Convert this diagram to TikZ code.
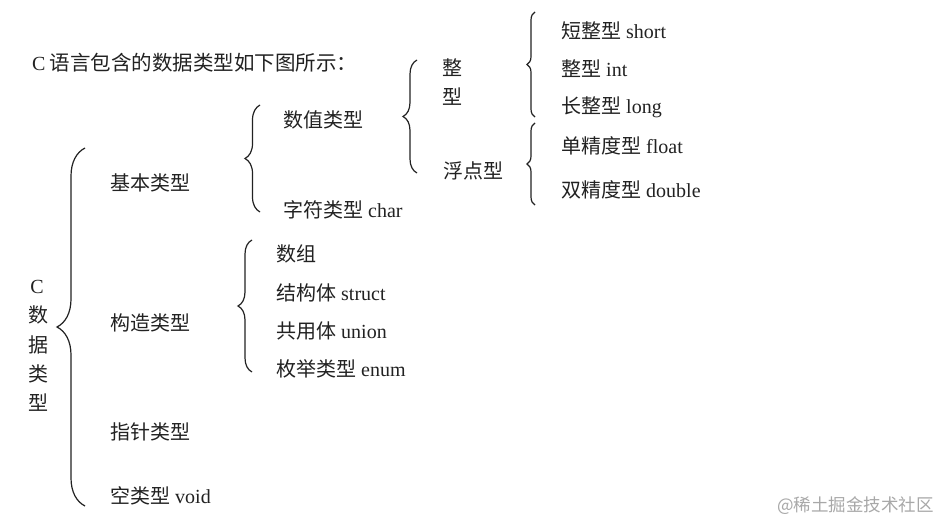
\documentclass[tikz,border=0pt]{standalone}
\usepackage{fontspec}
\setmainfont{Liberation Serif}
\newfontfamily\cjk{Noto Sans CJK SC}
\usetikzlibrary{decorations.pathreplacing}
\definecolor{txt}{HTML}{222222}
\definecolor{wmc}{HTML}{A8A8A8}
\begin{document}
\begin{tikzpicture}[x=1pt,y=-1pt,
  lbl/.style={anchor=west,inner sep=0pt,text=txt,font=\fontsize{20}{22}\selectfont},
  vl/.style={anchor=center,inner sep=0pt,text=txt,font=\fontsize{20}{22}\selectfont},
  br/.style={draw=txt,line width=1.2pt,decorate,decoration={brace,amplitude=#1}}]
\useasboundingbox[fill=white] (0,0) rectangle (941,524);

% title
\node[lbl] (title) at (32,63) {C\hspace{4pt}{\cjk\fontsize{20.5}{22}\selectfont 语言包含的数据类型如下图所示：}};

% vertical label
\node[vl] (vc) at (37,287) {C};
\node[vl] (v1) at (38,315) {\cjk 数};
\node[vl] (v2) at (38,345) {\cjk 据};
\node[vl] (v3) at (38,374) {\cjk 类};
\node[vl] (v4) at (38,403) {\cjk 型};

% level 1
\node[lbl] (jb) at (110,183) {\cjk 基本类型};
\node[lbl] (gz) at (110,323) {\cjk 构造类型};
\node[lbl] (zz) at (110,432) {\cjk 指针类型};
\node[lbl] (kl) at (110,496) {{\cjk 空类型} void};

% level 2
\node[lbl] (sz) at (283,120) {\cjk 数值类型};
\node[lbl] (zf) at (283,210) {{\cjk 字符类型} char};
\node[lbl] (arr) at (276,254) {\cjk 数组};
\node[lbl] (st) at (276,293) {{\cjk 结构体} struct};
\node[lbl] (un) at (276,331) {{\cjk 共用体} union};
\node[lbl] (en) at (276,369) {{\cjk 枚举类型} enum};

% level 3
\node[vl] (zx1) at (452,68) {\cjk 整};
\node[vl] (zx2) at (452,97) {\cjk 型};
\node[lbl] (fd) at (443,171) {\cjk 浮点型};

% level 4
\node[lbl] (sh) at (561,31) {{\cjk 短整型} short};
\node[lbl] (in) at (561,69) {{\cjk 整型} int};
\node[lbl] (lo) at (561,107) {{\cjk 长整型} long};
\node[lbl] (fl) at (561,146) {{\cjk 单精度型} float};
\node[lbl] (db) at (561,190) {{\cjk 双精度型} double};

% braces
\coordinate (b1t) at (85,148);  \coordinate (b1b) at (85,506);
\coordinate (b2t) at (260,105); \coordinate (b2b) at (260,212);
\coordinate (b3t) at (417,60);  \coordinate (b3b) at (417,173);
\coordinate (b4t) at (535,12);  \coordinate (b4b) at (535,117);
\coordinate (b5t) at (535,123); \coordinate (b5b) at (535,205);
\coordinate (b6t) at (252,240); \coordinate (b6b) at (252,372);
\draw[br=28] (b1b) -- (b1t);
\draw[br=15] (b2b) -- (b2t);
\draw[br=14] (b3b) -- (b3t);
\draw[br=8]  (b4b) -- (b4t);
\draw[br=8]  (b5b) -- (b5t);
\draw[br=14] (b6b) -- (b6t);

% watermark
\node[anchor=east,inner sep=0pt,text=wmc,font=\cjk\fontsize{17.5}{18}\selectfont] (wm) at (934,506) {@稀土掘金技术社区};
\end{tikzpicture}
\end{document}
